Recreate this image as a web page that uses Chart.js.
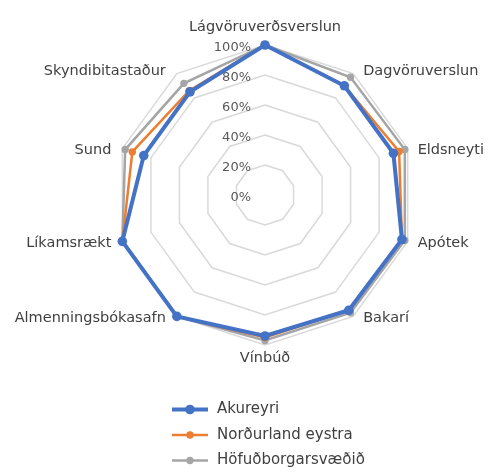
<!DOCTYPE html>
<html>
<head>
<meta charset="utf-8">
<script src="https://cdn.jsdelivr.net/npm/chart.js@4/dist/chart.umd.min.js"></script>
<style>
  html, body { margin: 0; padding: 0; background: #ffffff; }
  #wrap { width: 493px; height: 473px; position: relative; }
</style>
</head>
<body>
<div id="wrap"><canvas id="c"></canvas></div>
<script>
// ---- data ----
const categories = ['Lágvöruverðsverslun', 'Dagvöruverslun', 'Eldsneyti', 'Apótek', 'Bakarí', 'Vínbúð', 'Almenningsbókasafn', 'Líkamsrækt', 'Sund', 'Skyndibitastaður'];
const seriesNames = ['Akureyri', 'Norðurland eystra', 'Höfuðborgarsvæðið'];
const akureyri = [100, 90, 90, 96, 95, 94, 100, 100, 85, 85];
const nordurlandEystra = [100, 90, 94, 96, 95, 95, 100, 100, 93, 86];
const hofudborgarsvaedid = [100, 97, 98, 98, 97, 97, 100, 100, 98, 92];
const tickValues = [0, 20, 40, 60, 80, 100];
const tickLabels = ['0%', '20%', '40%', '60%', '80%', '100%'];

const FONT = '"DejaVu Sans", sans-serif';

const labelsPlugin = {
  id: 'labelsPlugin',
  beforeDatasetsDraw(chart) {
    const ctx = chart.ctx;
    const s = chart.scales.r;
    ctx.save();
    // tick labels
    ctx.font = '13px ' + FONT;
    ctx.fillStyle = '#595959';
    ctx.textAlign = 'right';
    ctx.textBaseline = 'middle';
    tickValues.forEach((v, i) => {
      const y = s.yCenter - s.getDistanceFromCenterForValue(v);
      ctx.fillText(tickLabels[i], s.xCenter - 14, y + 3);
    });
    // point labels
    ctx.font = '14.5px ' + FONT;
    ctx.fillStyle = '#404040';
    const n = chart.data.labels.length;
    chart.data.labels.forEach((lab, i) => {
      const p = s.getPointPosition(i, s.drawingArea);
      const deg = i * 360 / n;
      if (deg === 0) {
        ctx.textAlign = 'center'; ctx.textBaseline = 'alphabetic';
        ctx.fillText(lab, p.x, p.y - 14);
      } else if (deg === 180) {
        ctx.textAlign = 'center'; ctx.textBaseline = 'middle';
        ctx.fillText(lab, p.x, p.y + 13);
      } else if (deg < 180) {
        ctx.textAlign = 'left'; ctx.textBaseline = 'middle';
        const dy = deg < 60 ? -2.5 : 2;
        ctx.fillText(lab, p.x + 10, p.y + dy);
      } else {
        ctx.textAlign = 'right'; ctx.textBaseline = 'middle';
        const dy = deg > 300 ? -2.5 : 2;
        ctx.fillText(lab, p.x - 11, p.y + dy);
      }
    });
    ctx.restore();
  },
  afterDraw(chart) {
    const ctx = chart.ctx;
    ctx.save();
    const y0 = 409.5, step = 25.5;
    chart.data.datasets.forEach((ds, i) => {
      const y = y0 + i * step;
      ctx.strokeStyle = ds.borderColor;
      ctx.lineWidth = ds.borderWidth;
      ctx.beginPath();
      ctx.moveTo(172, y);
      ctx.lineTo(208, y);
      ctx.stroke();
      ctx.fillStyle = ds.pointBackgroundColor;
      ctx.beginPath();
      ctx.arc(190, y, ds.pointRadius, 0, Math.PI * 2);
      ctx.fill();
      ctx.font = '15px ' + FONT;
      ctx.fillStyle = '#404040';
      ctx.textAlign = 'left';
      ctx.textBaseline = 'middle';
      ctx.fillText(ds.label, 217, y);
    });
    ctx.restore();
  }
};

const colors = ['#4472C4', '#ED7D31', '#A5A5A5'];
const widths = [4, 2.5, 2.5];
const radii = [4.8, 3.7, 3.7];
const seriesData = [akureyri, nordurlandEystra, hofudborgarsvaedid];

new Chart(document.getElementById('c'), {
  type: 'radar',
  data: {
    labels: categories,
    datasets: seriesData.map((d, i) => ({
      label: seriesNames[i],
      data: d,
      borderColor: colors[i],
      backgroundColor: colors[i],
      pointBackgroundColor: colors[i],
      pointBorderColor: colors[i],
      pointBorderWidth: 0,
      pointRadius: radii[i],
      borderWidth: widths[i],
      fill: false,
      tension: 0
    }))
  },
  options: {
    responsive: true,
    maintainAspectRatio: false,
    animation: false,
    layout: { padding: { top: 45, bottom: 128, left: 115, right: 78 } },
    plugins: { legend: { display: false }, tooltip: { enabled: false } },
    scales: {
      r: {
        min: 0,
        max: 100,
        ticks: { stepSize: 20, display: false },
        pointLabels: { display: false },
        angleLines: { display: false },
        grid: { color: '#D9D9D9', lineWidth: 1.5, circular: false }
      }
    }
  },
  plugins: [labelsPlugin]
});
</script>
</body>
</html>
